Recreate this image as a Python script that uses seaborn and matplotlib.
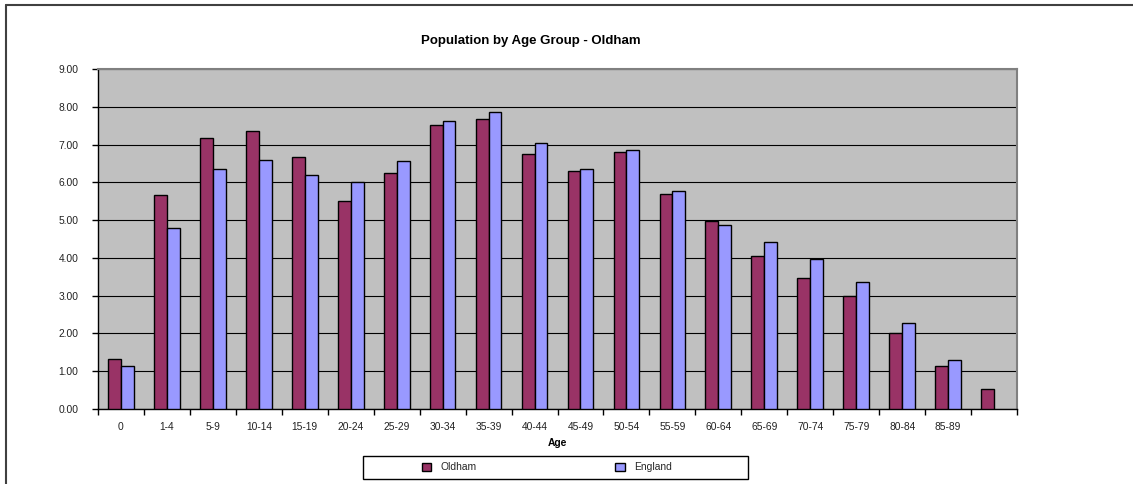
import numpy as np
import pandas as pd
import matplotlib
matplotlib.use("Agg")
import matplotlib.pyplot as plt
from matplotlib.patches import Patch, Rectangle
from matplotlib.lines import Line2D
from matplotlib.ticker import FixedLocator, FormatStrFormatter
import seaborn as sns

# Share of population (%) by five-year age band
age_groups = ["0", "1-4", "5-9", "10-14", "15-19", "20-24", "25-29", "30-34",
              "35-39", "40-44", "45-49", "50-54", "55-59", "60-64", "65-69",
              "70-74", "75-79", "80-84", "85-89", "90+"]
tick_labels = ["0", "1-4", "5-9", "10-14", "15-19", "20-24", "25-29", "30-34",
               "35-39", "40-44", "45-49", "50-54", "55-59", "60-64", "65-69",
               "70-74", "75-79", "80-84", "85-89", ""]
oldham = [1.32, 5.66, 7.17, 7.35, 6.67, 5.50, 6.26, 7.53, 7.67, 6.75,
          6.31, 6.79, 5.70, 4.97, 4.05, 3.48, 2.98, 2.02, 1.15, 0.54]
england = [1.14, 4.78, 6.34, 6.58, 6.20, 6.01, 6.56, 7.63, 7.87, 7.05,
           6.34, 6.85, 5.77, 4.87, 4.41, 3.97, 3.36, 2.28, 1.30, np.nan]
series_names = ["Oldham", "England"]
y_ticks = [0, 1, 2, 3, 4, 5, 6, 7, 8, 9]

colors = {"Oldham": "#993366", "England": "#9999FF"}

df = pd.DataFrame({
    "age": age_groups * 2,
    "area": [series_names[0]] * len(age_groups) + [series_names[1]] * len(age_groups),
    "value": oldham + england,
})
df["age"] = pd.Categorical(df["age"], categories=age_groups, ordered=True)

sns.set_theme(style="white")
plt.rcParams["font.family"] = ["Liberation Sans", "DejaVu Sans"]

W, H = 1133, 484
fig = plt.figure(figsize=(W / 100, H / 100), dpi=100)
fig.patch.set_facecolor("white")

# plot area placed in pixel units
x0, x1, y_top, y_bot = 98, 1017, 69, 409
ax = fig.add_axes([x0 / W, 1 - y_bot / H, (x1 - x0) / W, (y_bot - y_top) / H])
ax.set_facecolor("#C0C0C0")

sns.barplot(data=df, x="age", y="value", hue="area", hue_order=series_names,
            palette=colors, saturation=1, width=0.56, errorbar=None,
            edgecolor="black", linewidth=1.0, ax=ax, legend=False, zorder=3)

ax.set_xlim(-0.5, len(age_groups) - 0.5)
ax.set_ylim(0, 9)
ax.yaxis.set_major_locator(FixedLocator(y_ticks))
ax.yaxis.set_major_formatter(FormatStrFormatter("%.2f"))
ax.grid(axis="y", color="black", linewidth=0.8, zorder=1)
ax.set_axisbelow(True)

ax.set_xticks(range(len(age_groups)))
ax.set_xticklabels(tick_labels)
ax.xaxis.set_minor_locator(FixedLocator(np.arange(-0.5, len(age_groups), 1.0)))
ax.tick_params(axis="x", which="major", length=0, pad=9, labelsize=7.4, labelcolor="#222222")
ax.tick_params(axis="x", which="minor", length=4, width=1, color="black", direction="out", bottom=True)
ax.tick_params(axis="y", which="major", length=4, width=1, color="black", direction="out",
               left=True, pad=10, labelsize=7.4, labelcolor="#222222")
ax.set_xlabel("")
ax.set_ylabel("")

for side in ["left", "bottom"]:
    ax.spines[side].set_color("black")
    ax.spines[side].set_linewidth(1.0)
for side in ["top", "right"]:
    ax.spines[side].set_color("#808080")
    ax.spines[side].set_linewidth(1.5)

# titles
fig.text(531 / W, 1 - 41 / H, "Population by Age Group - Oldham", ha="center", va="center",
         fontsize=9.5, fontweight="bold", color="black")
fig.text(557 / W, 1 - 443 / H, "Age", ha="center", va="center",
         fontsize=7.4, fontweight="bold", color="black")

# legend with a fixed-size box
fig.add_artist(Rectangle((363 / W, 1 - 479 / H), 385 / W, 23 / H, transform=fig.transFigure,
                         facecolor="white", edgecolor="black", linewidth=1.0))
handles = [Patch(facecolor=colors[n], edgecolor="black", linewidth=1.0) for n in series_names]
fig.legend(handles, series_names, loc="center left",
           bbox_to_anchor=(422 / W, 1 - 467.5 / H), ncol=2, frameon=False,
           fontsize=7.4, handlelength=0.9, handleheight=0.7, handletextpad=0.9,
           columnspacing=13.5, borderpad=0.0, borderaxespad=0.0)

# outer chart frame (top and left edges)
fig.add_artist(Line2D([6 / W, 1.0], [1 - 5 / H, 1 - 5 / H], transform=fig.transFigure,
                      color="#404040", linewidth=1.5))
fig.add_artist(Line2D([6 / W, 6 / W], [1 - 5 / H, 0.0], transform=fig.transFigure,
                      color="#404040", linewidth=1.5))

fig.savefig("out.png", dpi=100)
